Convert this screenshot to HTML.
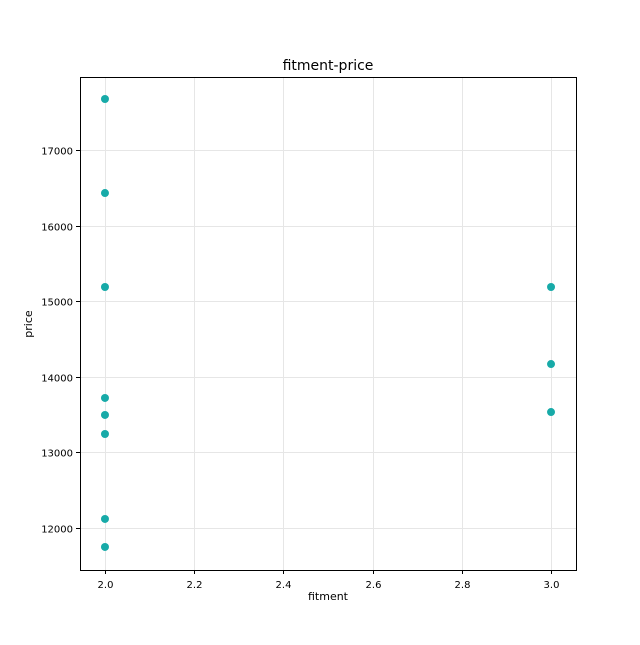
<!DOCTYPE html>
<html><head><meta charset="utf-8"><style>
body{margin:0;background:#fff;}
svg text{font-family:"DejaVu Sans","Liberation Sans",sans-serif;fill:#000;}
</style></head><body>
<svg id="chart" width="640" height="640" xmlns="http://www.w3.org/2000/svg">
<rect width="640" height="640" fill="#fff"/>
<g id="grid"></g>
<g id="points"></g>
<rect x="80.5" y="77.5" width="496" height="493" fill="none" stroke="#000" stroke-width="1"/>
<g id="xticks"></g>
<g id="yticks"></g>
<text x="328" y="70" text-anchor="middle" font-size="14">fitment-price</text>
<text x="328" y="600" text-anchor="middle" font-size="11">fitment</text>
<text x="32" y="324" text-anchor="middle" font-size="11" transform="rotate(-90 32 324)">price</text>
</svg>
<script>
const fitment=[2,2,2,2,2,2,2,2,3,3,3];
const price=[17675,16431,15188,13720,13495,13243,12119,11749,15188,14169,13534];
const xTicks=[2.0,2.2,2.4,2.6,2.8,3.0];
const yTicks=[12000,13000,14000,15000,16000,17000];
const xMin=1.944,xMax=3.056,yMin=11444,yMax=17966;
const L=80,R=576,T=77,B=570;
const sx=v=>L+(v-xMin)/(xMax-xMin)*(R-L);
const sy=v=>B-(v-yMin)/(yMax-yMin)*(B-T);
const NS="http://www.w3.org/2000/svg";
function mk(tag,attrs,parent){const e=document.createElementNS(NS,tag);for(const k in attrs)e.setAttribute(k,attrs[k]);parent.appendChild(e);return e;}
const grid=document.getElementById('grid'),xt=document.getElementById('xticks'),yt=document.getElementById('yticks'),pts=document.getElementById('points');
xTicks.forEach(v=>{const x=Math.round(sx(v))+0.5;
 const g=mk('line',{x1:x,x2:x,y1:T,y2:B,stroke:'#e6e6e6','stroke-width':1},grid);
 
 
 const t=mk('line',{x1:x,x2:x,y1:B,y2:B+4,stroke:'#000'},xt);
 
 
 const l=mk('text',{x:x,y:B+18,'text-anchor':'middle','font-size':10},xt);l.textContent=v.toFixed(1);
 
 
});
yTicks.forEach(v=>{const y=Math.round(sy(v))+0.5;
 const g=mk('line',{x1:L,x2:R,y1:y,y2:y,stroke:'#e6e6e6','stroke-width':1},grid);
 
 
 const t=mk('line',{x1:L-4,x2:L,y1:y,y2:y,stroke:'#000'},yt);
 
 
 const l=mk('text',{x:L-7,y:y+4,'text-anchor':'end','font-size':10},yt);l.textContent=v;
 
 
});
fitment.forEach((f,i)=>{
 const c=mk('circle',{cx:sx(f),cy:sy(price[i]),r:4,fill:'#17aaa8'},pts);
 
 
});
</script>
</body></html>
